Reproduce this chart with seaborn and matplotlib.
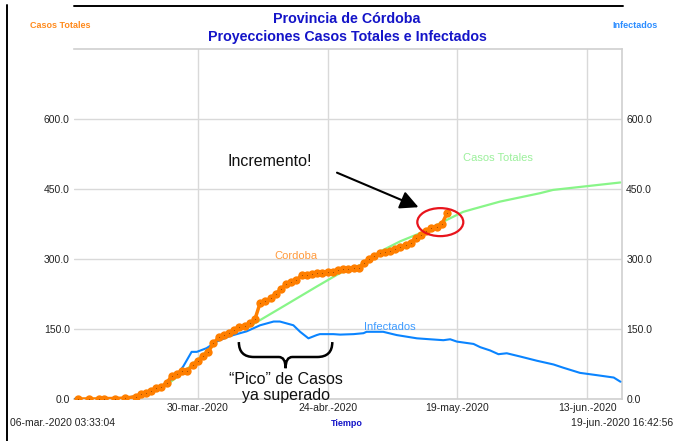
import numpy as np
import pandas as pd
import matplotlib
matplotlib.use('Agg')
import matplotlib.pyplot as plt
import matplotlib.dates as mdates
from matplotlib.patches import Ellipse, PathPatch
from matplotlib.path import Path
from matplotlib.lines import Line2D
import seaborn as sns

# datos (dias desde 06-mar-2020 00:00)
cordoba_dias = [1, 3, 5, 6, 8, 10] + list(range(12, 73))
cordoba_casos = [0, 0, 0, 1, 1, 2,
                 5, 10, 13, 18, 23, 26, 35, 49, 54, 59, 60, 72, 81, 92,
                 101, 119, 132, 137, 142, 148, 154, 156, 162, 171, 206, 209,
                 216, 226, 235, 246, 251, 254, 266, 266, 267, 269, 271, 272,
                 272, 276, 278, 279, 280, 280, 292, 301, 306, 312, 314, 317,
                 321, 325, 330, 335, 346, 351, 361, 366, 368, 375, 398]

totales_dias = [0.15, 10, 14, 18, 22, 25, 28, 30, 32, 34, 40.4, 46.9, 51.4, 55.3,
                59.1, 63, 67.4, 72, 75.1, 77, 82.2, 89.9, 92.4, 98.9, 105.4]
totales_casos = [0, 1, 10, 30, 65, 95, 128, 140, 150, 156, 198, 241, 270, 287,
                 316, 338, 358, 384, 401, 407, 423, 441, 448, 456, 464]

infectados_dias = [0.15, 9, 12.9, 14.8, 16.7, 18.6, 19.9, 21.2, 22.8, 23.8, 25.7,
                   27.6, 30.2, 33.4, 36, 38.6, 39.8, 41.1, 42.4, 43.7, 45.3,
                   46.9, 47.5, 50.1, 51.4, 54, 55.9, 56.5, 59.7, 62.3, 66.2,
                   68.7, 71.3, 72.6, 73.9, 77.1, 78.4, 80.3, 81.9, 83.5, 86.1,
                   89.3, 92.5, 94.4, 97.6, 100.9, 104.1, 105.4]
infectados_casos = [0, 0, 8, 15, 25, 40, 51, 70, 101, 101, 109,
                    123, 135, 145, 158, 166, 166, 162, 158, 144, 130,
                    137, 139, 139, 138, 139, 141, 144, 144, 137, 130,
                    128, 126, 128, 123, 118, 111, 104, 96, 98, 91,
                    82, 74, 67, 56, 51, 46, 37]

tick_fechas = ['2020-03-30', '2020-04-24', '2020-05-19', '2020-06-13']
tick_textos = ['30-mar.-2020', '24-abr.-2020', '19-may.-2020', '13-jun.-2020']
y_ticks = [0, 150, 300, 450, 600]

base = pd.Timestamp('2020-03-06')
t_ini = pd.Timestamp('2020-03-06 03:33:04')
t_fin = pd.Timestamp('2020-06-19 16:42:56')


def fecha(d):
    return base + pd.to_timedelta(np.asarray(d, dtype=float), unit='D')


def xnum(d):
    return mdates.date2num(base + pd.Timedelta(days=d))


sns.set_style('white')
plt.rcParams['font.family'] = ['Liberation Sans', 'DejaVu Sans']

fig = plt.figure(figsize=(6.75, 4.41), dpi=100)
ax = fig.add_axes([74 / 675, 1 - 399 / 441, 548 / 675, 350 / 441])

naranja = '#ff7f00'
verde = '#88f588'
azul = '#0a84ff'

sns.lineplot(x=fecha(totales_dias), y=totales_casos, ax=ax, color=verde, linewidth=1.6, zorder=2)
sns.lineplot(x=fecha(infectados_dias), y=infectados_casos, ax=ax, color=azul, linewidth=1.5, zorder=3)
sns.lineplot(x=fecha(cordoba_dias), y=cordoba_casos, ax=ax, color=naranja, linewidth=2.5,
             marker='o', markersize=6, markeredgewidth=0, zorder=4)
sns.scatterplot(x=fecha(cordoba_dias), y=cordoba_casos, ax=ax, color='#a04800', s=0.6,
                linewidth=0, zorder=5)

ax.set_xlim(t_ini, t_fin)
ax.set_ylim(0, 750)
ax.set_xticks(pd.to_datetime(tick_fechas))
ax.set_xticklabels(tick_textos)
ax.set_yticks(y_ticks)
ax.set_yticklabels([f'{v:.1f}' for v in y_ticks])
ax.tick_params(length=0, labelsize=7.5, pad=3, colors='#222222')
ax.grid(True, color='#d9d9d9', linewidth=1)
ax.spines['left'].set_visible(False)
for s in ['top', 'right', 'bottom']:
    ax.spines[s].set_color('#d0d0d0')
    ax.spines[s].set_linewidth(1.2)
ax.set_xlabel('')
ax.set_ylabel('')

ax2 = ax.twinx()
ax2.set_ylim(0, 750)
ax2.set_yticks(y_ticks)
ax2.set_yticklabels([f'{v:.1f}' for v in y_ticks])
ax2.tick_params(length=0, labelsize=7.5, pad=3, colors='#222222')
for s in ax2.spines.values():
    s.set_visible(False)
ax2.patch.set_visible(False)

# etiquetas de las series
ax.text(xnum(42.8), 307, 'Cordoba', color='#ff9a3c', fontsize=8, ha='center', va='center')
ax.text(xnum(81.8), 516, 'Casos Totales', color='#9cf09c', fontsize=8, ha='center', va='center')
ax.text(xnum(61.0), 155, 'Infectados', color='#3d9bff', fontsize=8, ha='center', va='center')

# anotaciones
ax.text(xnum(37.9), 510, 'Incremento!', fontsize=11.5, ha='center', va='center', color='#111111')
ax.annotate('', xy=(xnum(66.5), 411), xytext=(xnum(50.8), 485),
            arrowprops=dict(arrowstyle='-|>,head_length=1.1,head_width=0.55',
                            color='black', lw=1.5, shrinkA=0, shrinkB=0))
ax.add_patch(Ellipse((xnum(70.7), 379), width=8.86, height=60, fill=False,
                     edgecolor='#e8141c', linewidth=1.6, zorder=6))

x0, xm, x1 = xnum(31.9), xnum(40.9), xnum(49.9)
dx = 2.9
brace = Path([(x0, 122), (x0, 90), (x0 + dx, 90),
              (xm - 1.3, 90),
              (xm, 90), (xm, 66),
              (xm, 90), (xm + 1.3, 90),
              (x1 - dx, 90),
              (x1, 90), (x1, 122)],
             [Path.MOVETO, Path.CURVE3, Path.CURVE3,
              Path.LINETO,
              Path.CURVE3, Path.CURVE3,
              Path.CURVE3, Path.CURVE3,
              Path.LINETO,
              Path.CURVE3, Path.CURVE3])
ax.add_patch(PathPatch(brace, fill=False, edgecolor='black', linewidth=1.8, zorder=6))
ax.text(xm, 58, '\u201cPico\u201d de Casos\nya superado', fontsize=11.5, ha='center', va='top',
        linespacing=1.05, color='#111111', clip_on=False, zorder=7)

# textos del marco
fig.text(347 / 675, 1 - 19 / 441, 'Provincia de Córdoba', color='#1414c8', fontsize=10.3,
         fontweight='bold', ha='center', va='center')
fig.text(347 / 675, 1 - 37 / 441, 'Proyecciones Casos Totales e Infectados', color='#1414c8',
         fontsize=10.3, fontweight='bold', ha='center', va='center')
fig.text(60 / 675, 1 - 25 / 441, 'Casos Totales', color='#ff8a1c', fontsize=6.5,
         fontweight='bold', ha='center', va='center')
fig.text(635 / 675, 1 - 25 / 441, 'Infectados', color='#2a8cff', fontsize=6.5,
         fontweight='bold', ha='center', va='center')
fig.text(10 / 675, 1 - 423 / 441, '06-mar.-2020 03:33:04', fontsize=7.5, ha='left', va='center',
         color='#222222')
fig.text(673 / 675, 1 - 423 / 441, '19-jun.-2020 16:42:56', fontsize=7.5, ha='right', va='center',
         color='#222222')
fig.text(347 / 675, 1 - 423 / 441, 'Tiempo', color='#1414c8', fontsize=6.5, fontweight='bold',
         ha='center', va='center')

fig.add_artist(Line2D([74 / 675, 623 / 675], [1 - 6 / 441] * 2, color='black', linewidth=1.4))
fig.add_artist(Line2D([7 / 675] * 2, [0, 1 - 5 / 441], color='black', linewidth=1.4))

fig.savefig('out.png', dpi=100)
